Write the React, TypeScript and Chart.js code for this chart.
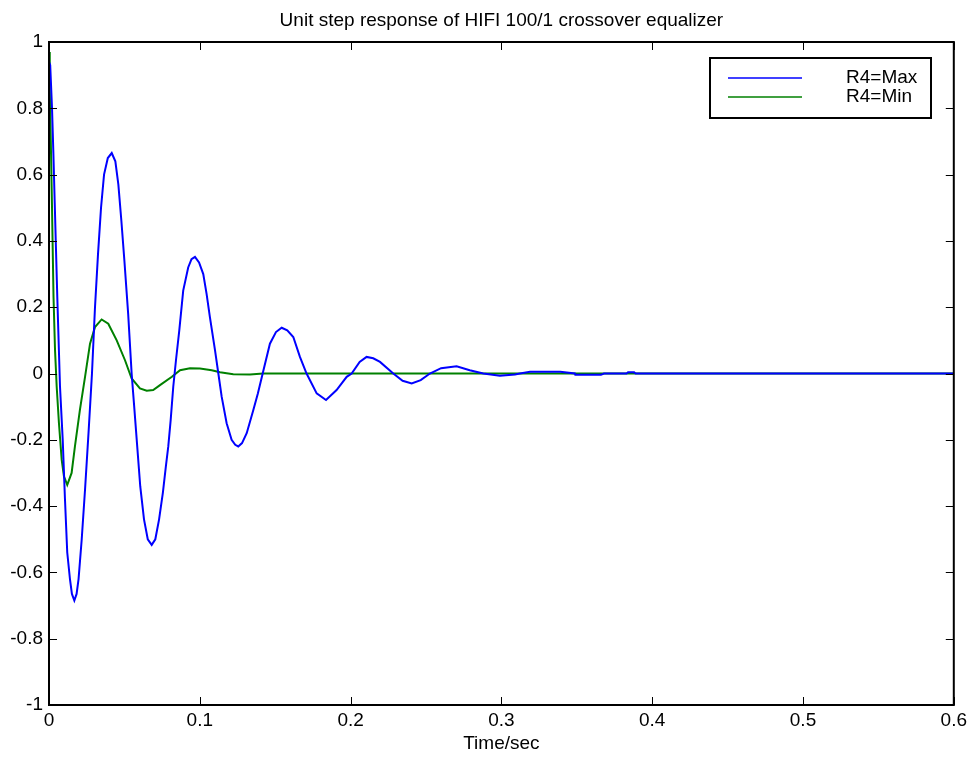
import React, { useEffect, useRef } from "react";
import { Chart, registerables } from "chart.js";

Chart.register(...registerables);

const titleText = "Unit step response of HIFI 100/1 crossover equalizer";
const xAxisTitle = "Time/sec";
const seriesNames = ["R4=Max", "R4=Min"];
const seriesColors = ["#0000ff", "#008000"];

const xTickValues = [0, 0.1, 0.2, 0.3, 0.4, 0.5, 0.6];
const xTickLabels = ["0", "0.1", "0.2", "0.3", "0.4", "0.5", "0.6"];
const yTickValues = [-1, -0.8, -0.6, -0.4, -0.2, 0, 0.2, 0.4, 0.6, 0.8, 1];
const yTickLabels = ["-1", "-0.8", "-0.6", "-0.4", "-0.2", "0", "0.2", "0.4", "0.6", "0.8", "1"];

// R4 = Max
const timeMax = [
  0, 0.0008, 0.002, 0.0029, 0.0038, 0.0046, 0.0055, 0.0073, 0.0091, 0.0106,
  0.0121, 0.0139, 0.0152, 0.0168, 0.0183, 0.0196, 0.0217, 0.0239, 0.0262, 0.0285,
  0.0305, 0.0325, 0.0345, 0.0365, 0.039, 0.0416, 0.044, 0.046, 0.048, 0.05,
  0.0525, 0.0548, 0.0565, 0.0585, 0.0605, 0.063, 0.0655, 0.0681, 0.0705, 0.073,
  0.0755, 0.0775, 0.0791, 0.0807, 0.0824, 0.0842, 0.0864, 0.089, 0.0923, 0.0945,
  0.0968, 0.0995, 0.1023, 0.1045, 0.1067, 0.1101, 0.1123, 0.1145, 0.1178, 0.1211,
  0.1235, 0.1255, 0.128, 0.1311, 0.1355, 0.1385, 0.1417, 0.1465, 0.1505, 0.1543,
  0.158, 0.162, 0.1664, 0.1708, 0.1775, 0.1837, 0.1907, 0.1974, 0.2007, 0.206,
  0.2106, 0.215, 0.2195, 0.2283, 0.2345, 0.2405, 0.2465, 0.2526, 0.26, 0.2703,
  0.279, 0.288, 0.299, 0.309, 0.3123, 0.319, 0.339, 0.3487, 0.349, 0.366,
  0.368, 0.383, 0.384, 0.388, 0.389, 0.6,
];
const valueMax = [
  0.94, 0.93, 0.8, 0.665, 0.514, 0.38, 0.23, -0.04, -0.2, -0.38,
  -0.54, -0.62, -0.665, -0.685, -0.665, -0.62, -0.5, -0.35, -0.18, 0.0,
  0.2, 0.36, 0.5, 0.6, 0.65, 0.665, 0.64, 0.57, 0.46, 0.34,
  0.18, 0.0, -0.1, -0.22, -0.34, -0.44, -0.5, -0.517, -0.5, -0.44,
  -0.36, -0.28, -0.22, -0.14, -0.04, 0.04, 0.13, 0.25, 0.32, 0.345,
  0.352, 0.335, 0.3, 0.24, 0.17, 0.07, 0.0, -0.07, -0.15, -0.2,
  -0.215, -0.22, -0.21, -0.18, -0.11, -0.06, 0.0, 0.09, 0.125, 0.138,
  0.13, 0.11, 0.05, 0.0, -0.06, -0.08, -0.05, -0.01, 0.0, 0.035,
  0.05, 0.046, 0.035, 0.0, -0.022, -0.03, -0.02, 0.0, 0.016, 0.022,
  0.01, 0.0, -0.007, -0.003, 0.0, 0.005, 0.005, 0.0, -0.004, -0.004,
  0.0, 0.0, 0.004, 0.004, 0.0, 0.0,
];

// R4 = Min
const timeMin = [
  0, 0.0005, 0.0012, 0.002, 0.003, 0.004, 0.0051, 0.0066, 0.0084, 0.0099,
  0.0121, 0.015, 0.0172, 0.0205, 0.0239, 0.0272, 0.0305, 0.0349, 0.0393, 0.0449,
  0.0504, 0.0548, 0.0603, 0.0648, 0.0691, 0.0736, 0.0815, 0.0869, 0.0935, 0.1001,
  0.1079, 0.1134, 0.1222, 0.1333, 0.142, 0.6,
];
const valueMin = [
  0.97, 0.86, 0.7, 0.5, 0.23, 0.07, -0.04, -0.15, -0.26, -0.31,
  -0.336, -0.3, -0.22, -0.11, -0.01, 0.09, 0.14, 0.163, 0.15, 0.1,
  0.04, -0.015, -0.045, -0.052, -0.05, -0.035, -0.01, 0.01, 0.016, 0.015,
  0.01, 0.004, -0.002, -0.003, 0.0, 0.0,
];

const FONT = "'Liberation Sans', Arial, Helvetica, sans-serif";

const framePlugin = {
  id: "matlabFrame",
  afterDatasetsDraw(chart: any) {
    const { ctx, chartArea, scales } = chart;
    const { left, right, top, bottom } = chartArea;
    ctx.save();
    ctx.strokeStyle = "#000";
    // ticks inside
    ctx.lineWidth = 1;
    const tl = 8;
    ctx.beginPath();
    for (const v of xTickValues) {
      const px = Math.round(scales.x.getPixelForValue(v)) + 0.5;
      ctx.moveTo(px, bottom);
      ctx.lineTo(px, bottom - tl);
      ctx.moveTo(px, top);
      ctx.lineTo(px, top + tl);
    }
    for (const v of yTickValues) {
      const py = Math.round(scales.y.getPixelForValue(v)) + 0.5;
      ctx.moveTo(left, py);
      ctx.lineTo(left + tl, py);
      ctx.moveTo(right, py);
      ctx.lineTo(right - tl, py);
    }
    ctx.stroke();
    // frame
    ctx.lineWidth = 2;
    ctx.strokeRect(left, top, right - left, bottom - top);

    // title
    ctx.fillStyle = "#000";
    ctx.font = `19px ${FONT}`;
    ctx.textAlign = "center";
    ctx.textBaseline = "alphabetic";
    ctx.fillText(titleText, (left + right) / 2, 26);

    // legend
    const bx = 710, by = 58, bw = 221, bh = 60;
    ctx.fillStyle = "#fff";
    ctx.fillRect(bx, by, bw, bh);
    ctx.lineWidth = 2;
    ctx.strokeStyle = "#000";
    ctx.strokeRect(bx, by, bw, bh);
    const rows = [78, 97];
    chart.data.datasets.forEach((ds: any, i: number) => {
      const y = rows[i];
      ctx.strokeStyle = ds.borderColor;
      ctx.lineWidth = 1.6;
      ctx.beginPath();
      ctx.moveTo(728, y);
      ctx.lineTo(802, y);
      ctx.stroke();
      ctx.fillStyle = "#000";
      ctx.textAlign = "left";
      ctx.textBaseline = "middle";
      ctx.font = `19px ${FONT}`;
      ctx.fillText(ds.label, 846, y);
    });
    ctx.restore();
  },
};

export default function App() {
  const ref = useRef<HTMLCanvasElement | null>(null);

  useEffect(() => {
    document.body.style.margin = "0";
    const canvas = ref.current;
    if (!canvas) return;
    const seriesTimes = [timeMax, timeMin];
    const seriesValues = [valueMax, valueMin];
    const chart = new Chart(canvas, {
      type: "line",
      data: {
        datasets: seriesNames.map((name, i) => ({
          label: name,
          data: seriesTimes[i].map((t, k) => ({ x: t, y: seriesValues[i][k] })),
          borderColor: seriesColors[i],
          backgroundColor: seriesColors[i],
          borderWidth: 2,
          pointRadius: 0,
          tension: 0,
          fill: false,
        })),
      },
      options: {
        animation: false,
        responsive: false,
        maintainAspectRatio: false,
        layout: { padding: { left: 0, right: 17, top: 42, bottom: 0 } },
        plugins: {
          legend: { display: false },
          title: { display: false },
          tooltip: { enabled: false },
        },
        scales: {
          x: {
            type: "linear",
            min: 0,
            max: 0.6,
            afterBuildTicks: (scale: any) => {
              scale.ticks = xTickValues.map((v) => ({ value: v }));
            },
            afterFit: (scale: any) => {
              scale.height = 53;
            },
            grid: { display: false, drawTicks: false },
            border: { display: false },
            ticks: {
              padding: 4,
              color: "#000",
              font: { family: FONT, size: 19 },
              maxRotation: 0,
              autoSkip: false,
              callback: (v: any) => {
                const idx = xTickValues.findIndex((t) => Math.abs(t - Number(v)) < 1e-9);
                return idx >= 0 ? xTickLabels[idx] : "";
              },
            },
            title: {
              display: true,
              text: xAxisTitle,
              color: "#000",
              font: { family: FONT, size: 19 },
              padding: { top: 0, bottom: 3 },
            },
          },
          y: {
            type: "linear",
            min: -1,
            max: 1,
            afterBuildTicks: (scale: any) => {
              scale.ticks = yTickValues.map((v) => ({ value: v }));
            },
            afterFit: (scale: any) => {
              scale.width = 49;
            },
            grid: { display: false, drawTicks: false },
            border: { display: false },
            ticks: {
              padding: 6,
              color: "#000",
              font: { family: FONT, size: 19 },
              autoSkip: false,
              callback: (v: any) => {
                const idx = yTickValues.findIndex((t) => Math.abs(t - Number(v)) < 1e-9);
                return idx >= 0 ? yTickLabels[idx] : "";
              },
            },
          },
        },
      },
      plugins: [framePlugin],
    });
    return () => chart.destroy();
  }, []);

  return (
    <div style={{ width: 971, height: 758, background: "#fff" }}>
      <canvas ref={ref} width={971} height={758} style={{ display: "block" }} />
    </div>
  );
}
